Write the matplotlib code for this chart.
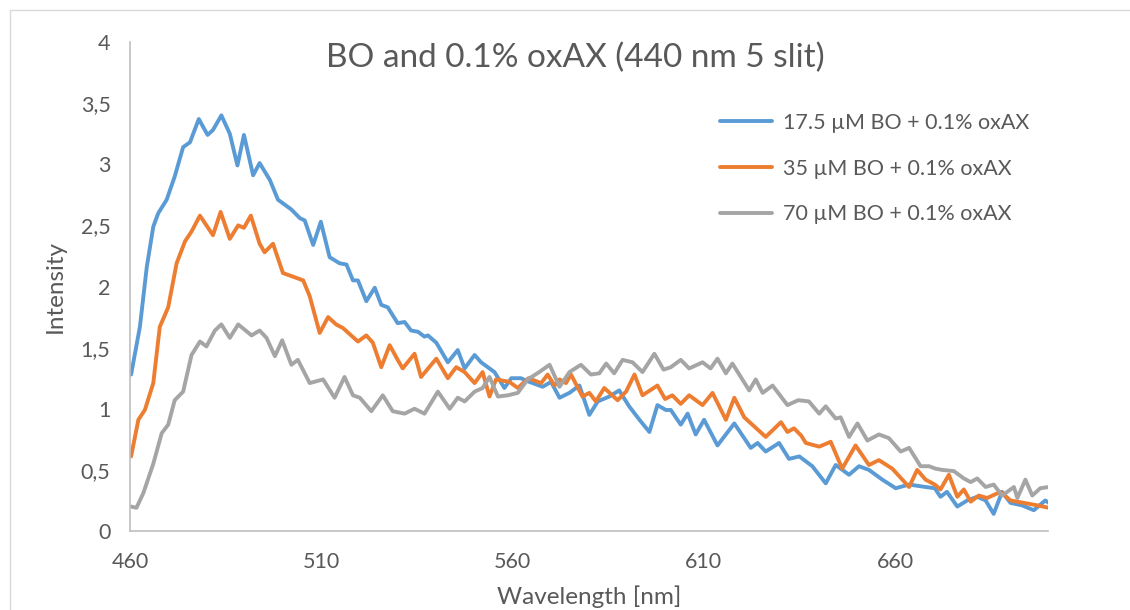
import matplotlib
matplotlib.use("Agg")
import matplotlib.pyplot as plt
from matplotlib.patches import Rectangle

# ---- data ----
blue_x = [460.3, 462.6, 464.4, 466.1, 467.4, 469.6, 471.7, 473.9, 475.7, 478.0, 480.3, 481.7, 483.9, 486.1,
          488.1, 489.8, 492.2, 493.9, 496.6, 498.7, 502.2, 504.4, 505.7, 507.9, 509.9, 512.2, 514.8, 516.6,
          518.3, 519.6, 521.8, 524.0, 525.7, 527.4, 530.0, 531.8, 533.5, 535.3, 537.0, 537.9, 540.1, 543.1,
          545.7, 547.5, 550.1, 551.8, 555.3, 557.9, 559.7, 562.2, 564.4, 567.9, 570.1, 572.3, 574.9, 577.5,
          580.1, 582.3, 585.3, 587.9, 590.5, 593.2, 595.8, 597.9, 600.1, 601.4, 604.0, 605.8, 607.9, 610.1,
          613.6, 618.0, 622.3, 624.1, 626.2, 629.7, 632.3, 635.0, 638.4, 641.9, 644.5, 648.0, 650.6, 653.2,
          656.7, 660.2, 663.7, 668.0, 670.4, 671.9, 673.6, 676.3, 678.9, 681.5, 683.7, 685.8, 688.0, 690.2,
          693.2, 696.3, 699.3, 700.2]
blue_y = [1.28, 1.67, 2.16, 2.49, 2.60, 2.71, 2.90, 3.14, 3.18, 3.37, 3.24, 3.28, 3.40, 3.25,
          2.99, 3.24, 2.91, 3.01, 2.87, 2.71, 2.63, 2.56, 2.54, 2.34, 2.53, 2.24, 2.19, 2.18,
          2.05, 2.05, 1.88, 1.99, 1.85, 1.83, 1.70, 1.71, 1.64, 1.63, 1.59, 1.60, 1.54, 1.38,
          1.48, 1.33, 1.44, 1.38, 1.30, 1.17, 1.25, 1.25, 1.22, 1.18, 1.22, 1.09, 1.13, 1.19,
          0.95, 1.06, 1.10, 1.15, 1.02, 0.91, 0.81, 1.03, 0.99, 0.99, 0.87, 0.96, 0.79, 0.91,
          0.70, 0.88, 0.68, 0.72, 0.65, 0.72, 0.59, 0.61, 0.53, 0.39, 0.54, 0.46, 0.53, 0.50,
          0.42, 0.35, 0.38, 0.36, 0.35, 0.28, 0.32, 0.20, 0.25, 0.28, 0.25, 0.14, 0.32, 0.23,
          0.21, 0.17, 0.25, 0.23]

orange_x = [460.3, 462.2, 463.9, 466.1, 467.8, 470.0, 472.2, 474.4, 476.1, 478.3, 481.7, 483.7, 486.1,
            488.3, 489.8, 491.6, 493.9, 495.2, 497.4, 500.0, 501.8, 505.3, 507.0, 509.6, 511.8, 513.9,
            515.7, 519.6, 521.8, 523.5, 525.7, 527.9, 530.0, 531.3, 534.4, 536.1, 540.1, 543.1, 545.3,
            547.5, 550.1, 552.2, 554.0, 555.7, 559.2, 561.4, 564.2, 567.5, 569.2, 571.0, 572.3, 574.0,
            575.3, 578.3, 580.1, 581.8, 584.0, 587.5, 589.7, 591.9, 594.0, 597.9, 599.9, 601.8, 604.0,
            606.2, 609.7, 612.3, 615.8, 618.0, 620.6, 626.2, 630.2, 631.9, 633.6, 635.5, 636.7, 640.2,
            643.2, 646.2, 649.7, 653.2, 655.8, 659.3, 663.7, 665.8, 668.0, 670.4, 671.9, 674.1, 676.3,
            678.0, 679.8, 681.9, 684.1, 687.6, 690.2, 693.7, 697.2, 700.2]
orange_y = [0.61, 0.91, 0.99, 1.21, 1.67, 1.83, 2.19, 2.37, 2.45, 2.58, 2.42, 2.61, 2.39,
            2.50, 2.48, 2.58, 2.35, 2.28, 2.35, 2.11, 2.09, 2.05, 1.92, 1.62, 1.75, 1.69,
            1.66, 1.55, 1.60, 1.54, 1.34, 1.52, 1.40, 1.33, 1.45, 1.26, 1.41, 1.25, 1.34,
            1.30, 1.21, 1.30, 1.10, 1.24, 1.22, 1.17, 1.25, 1.21, 1.28, 1.19, 1.24, 1.21,
            1.28, 1.10, 1.13, 1.06, 1.17, 1.07, 1.14, 1.28, 1.11, 1.19, 1.08, 1.11, 1.04,
            1.11, 1.03, 1.13, 0.91, 1.09, 0.93, 0.77, 0.89, 0.81, 0.84, 0.78, 0.72, 0.69,
            0.73, 0.51, 0.70, 0.54, 0.58, 0.51, 0.36, 0.50, 0.42, 0.38, 0.34, 0.46, 0.28,
            0.34, 0.24, 0.29, 0.27, 0.32, 0.25, 0.23, 0.21, 0.19]

gray_x = [460.3, 461.7, 463.5, 466.1, 468.3, 470.0, 471.7, 473.9, 476.1, 478.3, 480.0, 482.2, 483.9,
          486.1, 488.3, 491.8, 493.9, 495.7, 497.9, 499.8, 502.2, 503.9, 507.0, 510.5, 513.5, 516.1,
          518.3, 520.1, 523.1, 526.1, 528.7, 531.8, 534.4, 537.0, 540.5, 543.6, 545.7, 547.5, 550.1,
          552.2, 554.0, 556.2, 558.8, 561.4, 564.0, 567.0, 569.7, 572.3, 574.9, 577.9, 580.5, 582.7,
          584.5, 586.6, 588.8, 591.4, 594.0, 597.1, 599.5, 601.4, 604.0, 606.2, 609.7, 611.8, 613.6,
          615.8, 617.5, 621.9, 623.6, 625.4, 628.0, 631.9, 634.7, 637.5, 640.2, 641.9, 644.5, 645.8,
          648.0, 650.2, 652.8, 655.8, 658.4, 661.5, 663.7, 666.7, 668.9, 670.6, 672.3, 675.4, 678.0,
          679.8, 681.5, 683.7, 685.8, 688.0, 688.9, 691.1, 692.0, 694.1, 695.9, 698.0, 700.2]
gray_y = [0.20, 0.19, 0.31, 0.55, 0.80, 0.87, 1.07, 1.14, 1.44, 1.55, 1.51, 1.64, 1.69,
          1.58, 1.69, 1.60, 1.64, 1.58, 1.43, 1.56, 1.36, 1.40, 1.21, 1.24, 1.09, 1.26,
          1.11, 1.09, 0.98, 1.11, 0.98, 0.96, 1.00, 0.96, 1.14, 1.00, 1.09, 1.06, 1.14,
          1.17, 1.26, 1.10, 1.11, 1.13, 1.24, 1.30, 1.36, 1.18, 1.30, 1.36, 1.28, 1.29,
          1.37, 1.29, 1.40, 1.38, 1.30, 1.45, 1.32, 1.34, 1.40, 1.33, 1.38, 1.33, 1.41,
          1.29, 1.37, 1.15, 1.24, 1.13, 1.19, 1.03, 1.07, 1.06, 0.96, 1.02, 0.92, 0.93,
          0.77, 0.88, 0.74, 0.79, 0.76, 0.65, 0.68, 0.53, 0.53, 0.51, 0.50, 0.49, 0.43,
          0.40, 0.43, 0.36, 0.38, 0.29, 0.31, 0.36, 0.27, 0.42, 0.29, 0.35, 0.36]

series_labels = ["17.5 µM BO + 0.1% oxAX", "35 µM BO + 0.1% oxAX", "70 µM BO + 0.1% oxAX"]
series_colors = ["#5B9BD5", "#ED7D31", "#A5A5A5"]
x_ticks = [460, 510, 560, 610, 660]
y_ticks = [0, 0.5, 1, 1.5, 2, 2.5, 3, 3.5, 4]
y_tick_labels = ["0", "0,5", "1", "1,5", "2", "2,5", "3", "3,5", "4"]
title = "BO and 0.1% oxAX (440 nm 5 slit)"

plt.rcParams['font.family'] = ['Lato', 'DejaVu Sans']
text_color = "#595959"

fig = plt.figure(figsize=(11.3, 6.1), dpi=100)
ax = fig.add_axes([0.115, 0.1295, 0.8124, 0.8016])

for xs, ys, lab, col in zip([blue_x, orange_x, gray_x], [blue_y, orange_y, gray_y],
                            series_labels, series_colors):
    ax.plot(xs, ys, color=col, lw=2.8, label=lab, solid_joinstyle='round', solid_capstyle='round')

ax.set_xlim(460, 700)
ax.set_ylim(0, 4)
ax.set_xticks(x_ticks)
ax.set_xticklabels([str(t) for t in x_ticks])
ax.set_yticks(y_ticks)
ax.set_yticklabels(y_tick_labels)
ax.tick_params(length=0, labelsize=15.5, colors=text_color)
ax.tick_params(axis="x", pad=15)
ax.tick_params(axis="y", pad=14)
for s in ["top", "right"]:
    ax.spines[s].set_visible(False)
for s in ["left", "bottom"]:
    ax.spines[s].set_color("#BFBFBF")
    ax.spines[s].set_linewidth(1.2)

ax.set_xlabel("Wavelength [nm]", fontsize=17.5, color=text_color, labelpad=10)
ax.set_ylabel("Intensity", fontsize=17.5, color=text_color, labelpad=11)
fig.text(0.509, 0.905, title, ha="center", va="center", fontsize=24, color=text_color)

leg = ax.legend(loc="upper left", bbox_to_anchor=(0.622, 0.895), frameon=False, fontsize=15.5,
                handlelength=2.4, labelspacing=1.2, handletextpad=0.5)
for t in leg.get_texts():
    t.set_color(text_color)

# outer chart border (cropped)
fig.patches.append(Rectangle((10 / 1130, -0.05), 1.2, 1 - 10 / 610 + 0.05, transform=fig.transFigure,
                             fill=False, edgecolor="#D9D9D9", lw=1.0))

fig.savefig("out.png", dpi=100)
